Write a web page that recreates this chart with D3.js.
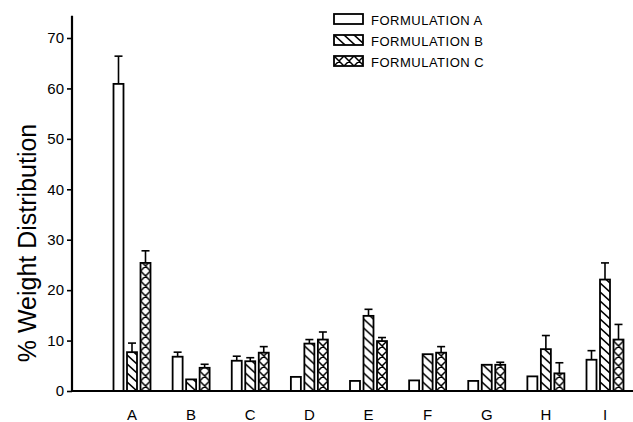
<!doctype html>
<html>
  <head>
    <script src="https://cdnjs.cloudflare.com/ajax/libs/d3/7.8.5/d3.min.js"></script>
    <style>
      body { margin: 0; background: #fff; }
      svg { display: block; }
      text {
        font-family: "Liberation Sans", Arial, Helvetica, sans-serif;
        fill: #000;
      }
      .bar {
        stroke: #000;
        stroke-width: 1.8px;
      }
      .err {
        stroke: #000;
        stroke-width: 1.6px;
      }
    </style>
  </head>
  <body>
    <svg width="633" height="422"></svg>

    <script>
      // values
      var categories = ["A", "B", "C", "D", "E", "F", "G", "H", "I"];
      var series = ["FORMULATION A", "FORMULATION B", "FORMULATION C"];
      var formA = [60.9, 6.8, 6.0, 2.8, 2.0, 2.1, 2.0, 2.9, 6.2];
      var formB = [7.7, 2.3, 5.9, 9.4, 14.9, 7.3, 5.2, 8.3, 22.1];
      var formC = [25.4, 4.6, 7.6, 10.2, 9.9, 7.6, 5.2, 3.5, 10.2];
      var errA = [5.5, 0.9, 0.9, 0, 0, 0, 0, 0, 1.8];
      var errB = [1.8, 0, 0.7, 0.8, 1.3, 0, 0, 2.7, 3.3];
      var errC = [2.4, 0.7, 1.2, 1.5, 0.7, 1.2, 0.5, 2.1, 3.0];
      var yTicks = [0, 10, 20, 30, 40, 50, 60, 70];

      var values = [formA, formB, formC];
      var errors = [errA, errB, errC];
      var fills = ["#fff", "url(#hatchB)", "url(#hatchC)"];

      var svg = d3.select("svg");

      var x = d3.scalePoint().domain(categories).range([132, 605]);
      var xs = d3.scaleBand().domain(series).range([-20.25, 20.25])
        .paddingInner(0.26).paddingOuter(0.13);
      var y = d3.scaleLinear().domain([0, 70]).range([391, 38]);
      var bw = xs.bandwidth();

      // hatch patterns, tiled from each bar's own origin
      var defs = svg.append("defs");
      defs.append("pattern")
          .attr("id", "hatchB")
          .attr("patternUnits", "userSpaceOnUse")
          .attr("width", 10).attr("height", 9)
        .append("path")
          .attr("d", [-1, 0, 1].map(n => `M-2,${-1.8 + 9 * n} L12,${10.8 + 9 * n}`).join(" "))
          .attr("stroke", "#000").attr("stroke-width", 1.6);
      defs.append("pattern")
          .attr("id", "hatchC")
          .attr("patternUnits", "userSpaceOnUse")
          .attr("width", 10).attr("height", 10)
        .append("path")
          .attr("d", [-1, 0, 1].map(n =>
            `M-2,${-2 + 10 * n} L12,${12 + 10 * n} M-2,${12 + 10 * n} L12,${-2 + 10 * n}`).join(" "))
          .attr("stroke", "#000").attr("stroke-width", 1.5);

      // flat table for the bars
      var rows = [];
      categories.forEach((c, i) => {
        series.forEach((s, j) => {
          rows.push({cat: c, ser: s, j: j, v: values[j][i], e: errors[j][i]});
        });
      });

      var barG = svg.append("g").selectAll("g")
        .data(rows)
        .enter()
        .append("g")
          .attr("transform", d => `translate(${x(d.cat) + xs(d.ser)},${y(0)})`);

      barG.append("rect")
          .attr("class", "bar")
          .attr("x", 0)
          .attr("y", d => y(d.v) - y(0))
          .attr("width", bw)
          .attr("height", d => y(0) - y(d.v))
          .attr("fill", d => fills[d.j]);

      var errG = barG.filter(d => d.e > 0);
      errG.append("line")
          .attr("class", "err")
          .attr("x1", bw / 2).attr("x2", bw / 2)
          .attr("y1", d => y(d.v) - y(0))
          .attr("y2", d => y(d.v + d.e) - y(0));
      errG.append("line")
          .attr("class", "err")
          .attr("x1", bw / 2 - 4).attr("x2", bw / 2 + 4)
          .attr("y1", d => y(d.v + d.e) - y(0))
          .attr("y2", d => y(d.v + d.e) - y(0));

      // axes
      var yAxis = svg.append("g")
          .attr("transform", "translate(72,0)")
          .call(d3.axisLeft(y).tickValues(yTicks).tickSize(5).tickPadding(3).tickSizeOuter(0));
      yAxis.select(".domain").remove();
      yAxis.selectAll("line").attr("stroke", "#000").attr("stroke-width", 1.6);
      yAxis.selectAll("text").style("font-size", "15px").attr("fill", "#000");

      svg.append("line")
          .attr("x1", 72).attr("x2", 72)
          .attr("y1", y(74.4)).attr("y2", y(0) + 1)
          .attr("stroke", "#000").attr("stroke-width", 2.2);
      svg.append("line")
          .attr("x1", 71).attr("x2", 633)
          .attr("y1", y(0)).attr("y2", y(0))
          .attr("stroke", "#000").attr("stroke-width", 2.2);

      svg.append("g").selectAll("text")
        .data(categories)
        .enter()
        .append("text")
          .attr("x", d => x(d))
          .attr("y", 420)
          .attr("text-anchor", "middle")
          .style("font-size", "15px")
          .text(d => d);

      svg.append("text")
          .attr("transform", "translate(36,243) rotate(-90)")
          .attr("text-anchor", "middle")
          .style("font-size", "25px")
          .text("% Weight Distribution");

      // legend
      var legG = svg.append("g").selectAll("g")
        .data(series)
        .enter()
        .append("g")
          .attr("transform", (d, i) => `translate(334,${14 + i * 21})`);
      legG.append("rect")
          .attr("class", "bar")
          .attr("width", 29).attr("height", 10)
          .attr("fill", (d, i) => fills[i]);
      legG.append("text")
          .attr("x", 37).attr("y", 6)
          .attr("dy", "0.36em")
          .style("font-size", "13px")
          .style("letter-spacing", "0.5px")
          .text(d => d);
    </script>
  </body>
</html>
